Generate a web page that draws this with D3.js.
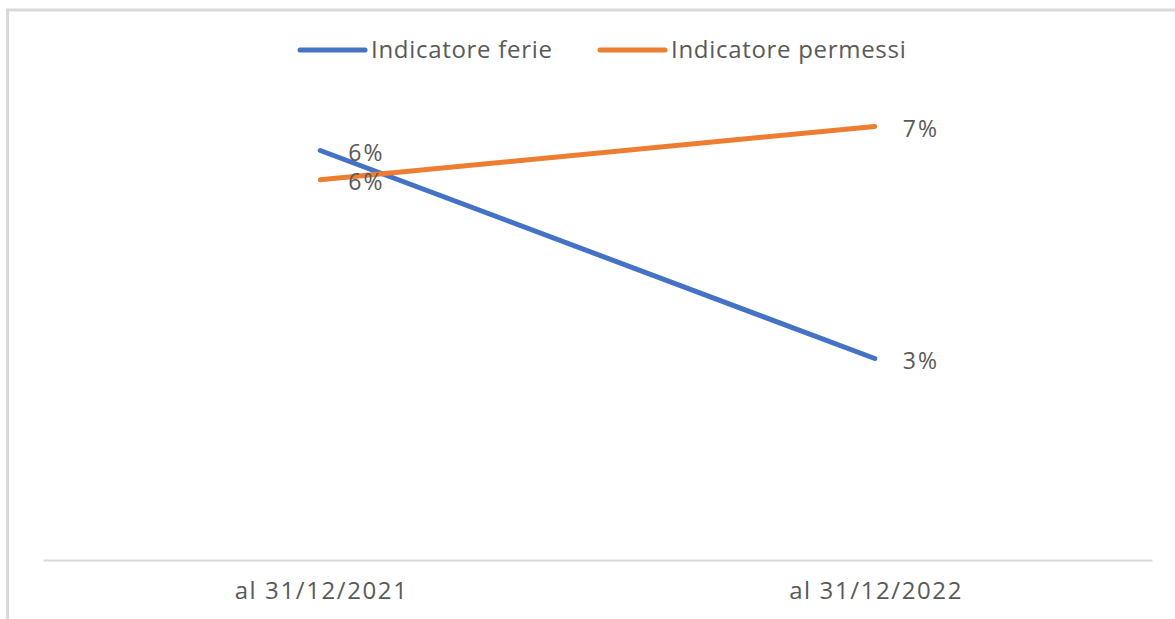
<!DOCTYPE html>
<html>
<head>
<meta charset="utf-8">
<script src="https://cdn.jsdelivr.net/npm/d3@7"></script>
<style>
  body { margin: 0; background: #fff; }
  text { font-family: "Open Sans", sans-serif; fill: #595959; }
</style>
</head>
<body>
<div id="viz"></div>
<script>
// chart data
var categories = ['al 31/12/2021', 'al 31/12/2022'];
var seriesNames = ['Indicatore ferie', 'Indicatore permessi'];
var ferie = [0.063, 0.031];
var permessi = [0.0585, 0.0667];
var colors = ['#4472C4', '#ED7D31'];

var width = 1175, height = 619;

var svg = d3.select('#viz').append('svg')
  .attr('width', width)
  .attr('height', height);

// chart border (cut off at the right and bottom)
svg.append('path')
  .attr('d', 'M7.5,' + height + 'V10H' + width)
  .attr('fill', 'none')
  .attr('stroke', '#d9d9d9')
  .attr('stroke-width', 3);

// scales
var x = d3.scalePoint().domain(categories).range([43, 1152]).padding(0.5);
var y = d3.scaleLinear().domain([0, 0.08]).range([560, 40]);

// x axis: only the base line and the labels
var xAxis = svg.append('g')
  .attr('transform', 'translate(0,560)')
  .call(d3.axisBottom(x).tickSize(0).tickPadding(22));
xAxis.select('.domain').attr('stroke', '#d9d9d9').attr('stroke-width', 2);
xAxis.selectAll('text')
  .attr('font-size', '24px')
  .attr('letter-spacing', '1.6px')
  .attr('dx', '0.8px')
  .style('font-family', '"Open Sans", sans-serif')
  .attr('fill', '#595959');

var series = [ferie, permessi];
var line = d3.line()
  .x(function(d, i) { return x(categories[i]); })
  .y(function(d) { return y(d); });

series.forEach(function(vals, s) {
  svg.append('path')
    .datum(vals)
    .attr('d', line)
    .attr('fill', 'none')
    .attr('stroke', colors[s])
    .attr('stroke-width', 5)
    .attr('stroke-linecap', 'round');
});

// data labels, right of each point
series.forEach(function(vals, s) {
  svg.selectAll('.lbl' + s)
    .data(vals)
    .enter()
    .append('text')
    .attr('class', 'lbl' + s)
    .attr('x', function(d, i) { return x(categories[i]) + 28; })
    .attr('y', function(d) { return y(d) + 2; })
    .attr('dy', '0.35em')
    .attr('font-size', '23px')
    .attr('letter-spacing', '2px')
    .text(function(d) { return Math.round(d * 100) + '%'; });
});

// legend
var legendX = [297, 597];
var legend = svg.selectAll('.legend')
  .data(seriesNames)
  .enter()
  .append('g')
  .attr('class', 'legend')
  .attr('transform', function(d, i) { return 'translate(' + legendX[i] + ',50)'; });
legend.append('line')
  .attr('x1', 3).attr('x2', 68)
  .attr('stroke', function(d, i) { return colors[i]; })
  .attr('stroke-width', 5)
  .attr('stroke-linecap', 'round');
legend.append('text')
  .attr('x', 74)
  .attr('dy', '0.35em')
  .attr('font-size', '24px')
  .attr('letter-spacing', '0.7px')
  .text(function(d) { return d; });
</script>
</body>
</html>
